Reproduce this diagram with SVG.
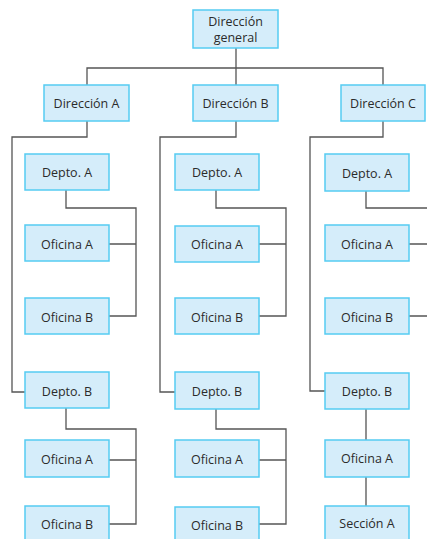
<svg xmlns="http://www.w3.org/2000/svg" width="427" height="539" viewBox="0 0 427 539">
<style>
.box{fill:#d5edfa;stroke:#55ccf2;stroke-width:1.5}
.t{font-family:"Open Sans","Noto Sans",sans-serif;font-size:12.5px;fill:#2b2b2b;text-anchor:middle}
.ln{fill:none;stroke:#555;stroke-width:1.3}
</style>
<rect width="427" height="539" fill="#fff"/>
<g id="connectors" class="ln">
<path d="M236 48V68M87 85V68H383V85M236 68V85"/>
<path d="M87 121V137H12V392H25"/>
<path d="M236 121V137H160V392H175"/>
<path d="M383 121V137H310V391H325"/>
<path d="M66 190V208H136V316H109M109 244H136"/>
<path d="M66 408V429H136V524H109M109 460H136"/>
<path d="M216 190V208H286V316H259M259 244H286"/>
<path d="M216 408V429H286V524H259M259 460H286"/>
<path d="M366 190V208H440M409 244H440M409 316H440"/>
<path d="M366 409V440M366 477V506"/>
</g>
<g id="dg"><rect class="box" x="193" y="10" width="85" height="38"/><text class="t" x="235.5" y="26">Dirección</text><text class="t" x="235.5" y="42">general</text></g>
<g id="dirA"><rect class="box" x="44" y="85" width="85" height="36"/><text class="t" x="86.5" y="107.5">Dirección A</text></g>
<g id="dirB"><rect class="box" x="193" y="85" width="85" height="36"/><text class="t" x="235.5" y="107.5">Dirección B</text></g>
<g id="dirC"><rect class="box" x="341" y="85" width="84" height="36"/><text class="t" x="383" y="107.5">Dirección C</text></g>
<g id="a_deptoA"><rect class="box" x="25" y="154" width="84" height="36"/><text class="t" x="67" y="176.5">Depto. A</text></g>
<g id="a_ofA1"><rect class="box" x="25" y="225" width="84" height="36"/><text class="t" x="67" y="248.5">Oficina A</text></g>
<g id="a_ofB1"><rect class="box" x="25" y="298" width="84" height="36"/><text class="t" x="67" y="321.5">Oficina B</text></g>
<g id="a_deptoB"><rect class="box" x="25" y="372" width="84" height="36"/><text class="t" x="67" y="395.5">Depto. B</text></g>
<g id="a_ofA2"><rect class="box" x="25" y="440" width="84" height="37"/><text class="t" x="67" y="463.5">Oficina A</text></g>
<g id="a_ofB2"><rect class="box" x="25" y="506" width="84" height="37"/><text class="t" x="67" y="528.5">Oficina B</text></g>
<g id="b_deptoA"><rect class="box" x="175" y="154" width="84" height="36"/><text class="t" x="217" y="176.5">Depto. A</text></g>
<g id="b_ofA1"><rect class="box" x="175" y="226" width="84" height="36"/><text class="t" x="217" y="248.5">Oficina A</text></g>
<g id="b_ofB1"><rect class="box" x="175" y="298" width="84" height="36"/><text class="t" x="217" y="321.5">Oficina B</text></g>
<g id="b_deptoB"><rect class="box" x="175" y="372" width="84" height="37"/><text class="t" x="217" y="395.5">Depto. B</text></g>
<g id="b_ofA2"><rect class="box" x="175" y="440" width="84" height="37"/><text class="t" x="217" y="463.5">Oficina A</text></g>
<g id="b_ofB2"><rect class="box" x="175" y="507" width="84" height="37"/><text class="t" x="217" y="529.5">Oficina B</text></g>
<g id="c_deptoA"><rect class="box" x="325" y="154" width="84" height="37"/><text class="t" x="367" y="177.5">Depto. A</text></g>
<g id="c_ofA1"><rect class="box" x="325" y="225" width="84" height="36"/><text class="t" x="367" y="248.5">Oficina A</text></g>
<g id="c_ofB1"><rect class="box" x="325" y="298" width="84" height="36"/><text class="t" x="367" y="321.5">Oficina B</text></g>
<g id="c_deptoB"><rect class="box" x="325" y="373" width="84" height="36"/><text class="t" x="367" y="395.5">Depto. B</text></g>
<g id="c_ofA"><rect class="box" x="325" y="440" width="84" height="37"/><text class="t" x="367" y="462.5">Oficina A</text></g>
<g id="c_secA"><rect class="box" x="325" y="506" width="84" height="37"/><text class="t" x="367" y="527.5">Sección A</text></g>
</svg>
